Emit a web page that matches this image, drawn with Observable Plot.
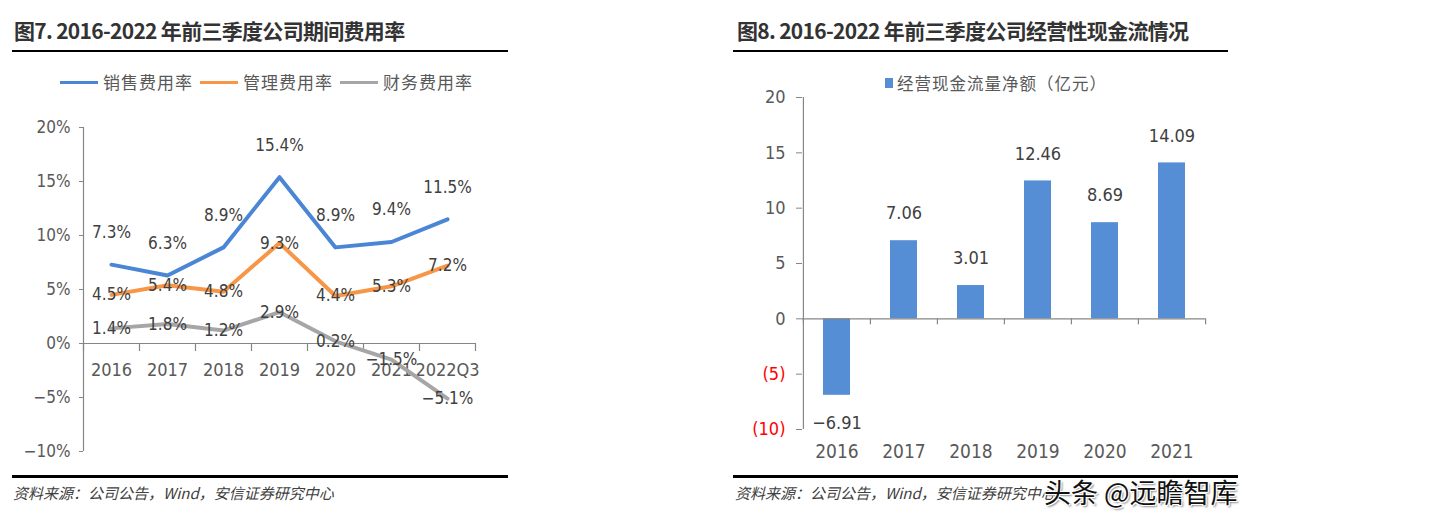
<!DOCTYPE html>
<html><head><meta charset="utf-8">
<script src="https://cdn.jsdelivr.net/npm/d3@7"></script>
<script src="https://cdn.jsdelivr.net/npm/@observablehq/plot@0.6"></script>
<style>
body{margin:0;background:#fff;}
#wrap{position:relative;width:1450px;height:526px;overflow:hidden;background:#fff;font-family:"Noto Sans CJK SC","Noto Sans",sans-serif;}
.chart{position:absolute;top:0;}
.title{position:absolute;top:15px;font-weight:700;font-size:21px;line-height:30px;color:#333;white-space:nowrap;letter-spacing:-0.7px;}
.bar{position:absolute;background:#000;}
.src{position:absolute;top:482px;font-style:italic;font-size:15px;line-height:22px;color:#404040;white-space:nowrap;}
.lg{position:absolute;font-size:17px;line-height:24px;color:#595959;white-space:nowrap;letter-spacing:1px;}
.lgline{position:absolute;height:3px;}
.wm{position:absolute;left:1044px;top:474px;font-size:27px;line-height:36px;color:#111;white-space:nowrap;
  text-shadow:-1px -1px 0 #fff,1px -1px 0 #fff,-1px 1px 0 #fff,1px 1px 0 #fff,2px 2px 2px #888;}
</style></head>
<body><div id="wrap"></div>
<script>
// ---- data ----
const rateCategories = ["2016","2017","2018","2019","2020","2021","2022Q3"];
const salesRate   = [7.3, 6.3, 8.9, 15.4, 8.9, 9.4, 11.5];
const adminRate   = [4.5, 5.4, 4.8, 9.3, 4.4, 5.3, 7.2];
const financeRate = [1.4, 1.8, 1.2, 2.9, 0.2, -1.5, -5.1];
const rateTicks = [-10, -5, 0, 5, 10, 15, 20];
const seriesNames = ["销售费用率", "管理费用率", "财务费用率"];
const seriesColors = ["#4A86D5", "#F79646", "#A6A6A6"];

const cashCategories = ["2016","2017","2018","2019","2020","2021"];
const cashFlow = [-6.91, 7.06, 3.01, 12.46, 8.69, 14.09];
const cashTicks = [-10, -5, 0, 5, 10, 15, 20];
const cashLegend = "经营现金流量净额（亿元）";

const title7 = "图7. 2016-2022 年前三季度公司期间费用率";
const title8 = "图8. 2016-2022 年前三季度公司经营性现金流情况";
const sourceText = "资料来源：公司公告，Wind，安信证券研究中心";
const watermark = "头条 @远瞻智库";

// ---- helpers ----
const wrap = document.getElementById("wrap");
const numFont = '"Liberation Sans Narrow","DejaVu Sans Condensed","Liberation Sans",sans-serif';
const axisColor = "#868686";
const tickText = "#595959";
const labelText = "#404040";
const minus = v => (v < 0 ? "\u2212" + Math.abs(v) : String(v));
const pct = v => minus(v) + "%";
const pct1 = v => minus(v.toFixed(1)) + "%";
function add(html){ wrap.insertAdjacentHTML("beforeend", html); }

// ---- left chart ----
const W = 725, H = 526;
const LM = {left: 83, right: 250, top: 127, bottom: 75};
const bwL = (W - LM.left - LM.right) / rateCategories.length;
const pxL = (H - LM.top - LM.bottom) / (rateTicks[rateTicks.length-1] - rateTicks[0]);
const seriesData = [salesRate, adminRate, financeRate];
const rows = seriesData.flatMap((arr, s) => arr.map((v, i) => ({cat: rateCategories[i], s: seriesNames[s], v})));
const bounds7 = rateCategories.map(c => ({c, dx: -bwL/2})).concat([{c: rateCategories[rateCategories.length-1], dx: bwL/2}]);

const left = Plot.plot({
  width: W, height: H,
  marginLeft: LM.left, marginRight: LM.right, marginTop: LM.top, marginBottom: LM.bottom,
  style: {background: "transparent", fontFamily: numFont, fontSize: "17px", color: tickText, overflow: "visible"},
  x: {type: "band", domain: rateCategories, padding: 0, axis: null},
  y: {domain: [rateTicks[0], rateTicks[rateTicks.length-1]], axis: null},
  color: {domain: seriesNames, range: seriesColors},
  marks: [
    Plot.ruleX([rateCategories[0]], {dx: -bwL/2, y1: rateTicks[0], y2: rateTicks[rateTicks.length-1], stroke: axisColor, strokeWidth: 1.2}),
    Plot.axisY(rateTicks, {label: null, tickSize: 4, tickPadding: 9, tickFormat: pct, stroke: axisColor, fill: tickText, fontSize: 17}),
    Plot.ruleY([0], {stroke: axisColor, strokeWidth: 1.2}),
    ...bounds7.map(b => Plot.ruleX([b.c], {dx: b.dx, y1: 0, y2: -8/pxL, stroke: axisColor, strokeWidth: 1.2})),
    Plot.text(rateCategories, {x: d => d, y: () => 0, dy: 27, text: d => d, fill: tickText, fontSize: 18, letterSpacing: "-0.5px"}),
    Plot.line(rows, {x: "cat", y: "v", z: "s", stroke: "s", strokeWidth: 4, strokeLinejoin: "round", strokeLinecap: "round"}),
    Plot.text(rows.filter(r => r.s === seriesNames[0]), {x: "cat", y: "v", text: r => pct1(r.v), dy: -32, fill: labelText, fontSize: 17, letterSpacing: "1px"}),
    Plot.text(rows.filter(r => r.s !== seriesNames[0]), {x: "cat", y: "v", text: r => pct1(r.v), fill: labelText, fontSize: 17, letterSpacing: "1px"})
  ]
});
left.classList.add("chart");
left.style.left = "0px";
wrap.appendChild(left);

// ---- right chart ----
const RM = {left: 77, right: 245, top: 97, bottom: 97};
const bwR = (W - RM.left - RM.right) / cashCategories.length;
const pxR = (H - RM.top - RM.bottom) / (cashTicks[cashTicks.length-1] - cashTicks[0]);
const cashRows = cashCategories.map((c, i) => ({cat: c, v: cashFlow[i]}));
const bounds8 = cashCategories.map(c => ({c, dx: -bwR/2})).concat([{c: cashCategories[cashCategories.length-1], dx: bwR/2}]);

const right = Plot.plot({
  width: W, height: H,
  marginLeft: RM.left, marginRight: RM.right, marginTop: RM.top, marginBottom: RM.bottom,
  style: {background: "transparent", fontFamily: numFont, fontSize: "17px", color: tickText, overflow: "visible"},
  x: {type: "band", domain: cashCategories, padding: 0, axis: null},
  y: {domain: [cashTicks[0], cashTicks[cashTicks.length-1]], axis: null},
  marks: [
    Plot.barY(cashRows, {x: "cat", y: "v", fill: "#558ED5", insetLeft: 20, insetRight: 20}),
    Plot.ruleX([cashCategories[0]], {dx: -bwR/2, y1: cashTicks[0], y2: cashTicks[cashTicks.length-1], stroke: axisColor, strokeWidth: 1.2}),
    Plot.ruleY([0], {stroke: axisColor, strokeWidth: 1.2}),
    ...bounds8.map(b => Plot.ruleX([b.c], {dx: b.dx, y1: 0, y2: -6/pxR, stroke: axisColor, strokeWidth: 1.2})),
    Plot.axisY(cashTicks.filter(t => t >= 0), {label: null, tickSize: 6, tickPadding: 11, tickFormat: d => String(d), stroke: axisColor, fill: tickText, fontSize: 18}),
    Plot.axisY(cashTicks.filter(t => t < 0), {label: null, tickSize: 6, tickPadding: 11, tickFormat: d => "(" + Math.abs(d) + ")", stroke: axisColor, fill: "#FF0000", fontSize: 18}),
    Plot.text(cashRows.filter(r => r.v >= 0), {x: "cat", y: "v", text: r => minus(r.v.toFixed(2)), dy: -27, fill: labelText, fontSize: 18, letterSpacing: "1px"}),
    Plot.text(cashRows.filter(r => r.v < 0), {x: "cat", y: "v", text: r => minus(r.v.toFixed(2)), dy: 28, fill: labelText, fontSize: 18, letterSpacing: "1px"}),
    Plot.text(cashCategories, {x: d => d, frameAnchor: "bottom", dy: 28, text: d => d, fill: tickText, fontSize: 19})
  ]
});
right.classList.add("chart");
right.style.left = "725px";
wrap.appendChild(right);

// ---- titles, legends, footers ----
add(`<div class="title" style="left:14px">${title7}</div>`);
add(`<div class="bar" style="left:12px;top:50px;width:496px;height:2px"></div>`);
add(`<div class="title" style="left:737px">${title8}</div>`);
add(`<div class="bar" style="left:733px;top:50px;width:495px;height:2px"></div>`);

const lgX = [60, 200, 340];
seriesNames.forEach((n, i) => {
  add(`<div class="lgline" style="left:${lgX[i]}px;top:81px;width:38px;background:${seriesColors[i]}"></div>`);
  add(`<div class="lg" style="left:${lgX[i]+43}px;top:70px">${n}</div>`);
});
add(`<div style="position:absolute;left:885px;top:78px;width:8px;height:10px;background:#558ED5"></div>`);
add(`<div class="lg" style="left:897px;top:71px;font-size:16.5px">${cashLegend}</div>`);

add(`<div class="bar" style="left:12px;top:475px;width:496px;height:3px"></div>`);
add(`<div class="bar" style="left:733px;top:475px;width:505px;height:3px"></div>`);
add(`<div class="src" style="left:13px">${sourceText}</div>`);
add(`<div class="src" style="left:735px">${sourceText}</div>`);
add(`<div class="wm">${watermark}</div>`);
</script>
</body></html>
